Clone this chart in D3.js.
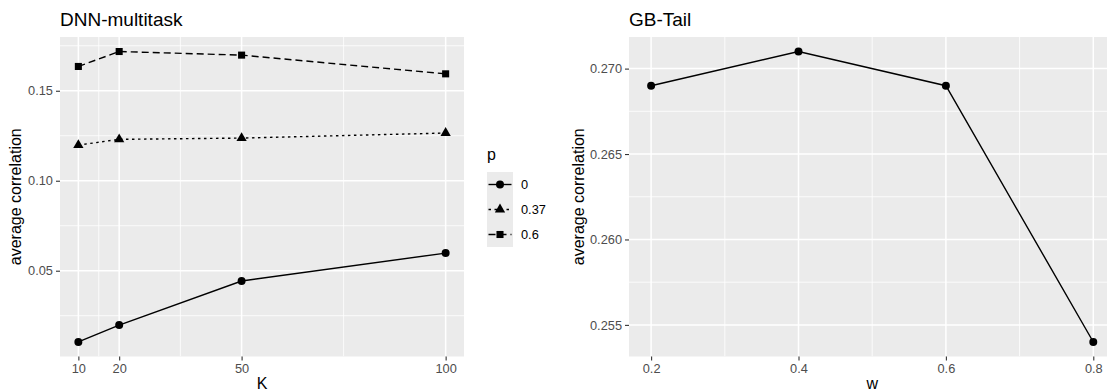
<!DOCTYPE html>
<html>
<head>
<meta charset="utf-8">
<script src="https://cdn.jsdelivr.net/npm/d3@7"></script>
<style>
  html, body { margin: 0; padding: 0; background: #ffffff; }
  svg { display: block; font-family: "Liberation Sans", Arial, Helvetica, sans-serif; }
</style>
</head>
<body>
<svg id="chart" width="1107" height="392"></svg>
<script>
// ---- data: DNN-multitask ----
const kValues = [10, 20, 50, 100];
const pLevels = ["0", "0.37", "0.6"];
const corrP0   = [0.0104, 0.0198, 0.0443, 0.0598];
const corrP037 = [0.1198, 0.1230, 0.1237, 0.1265];
const corrP06  = [0.1635, 0.1718, 0.1698, 0.1594];
const kTicks = [10, 20, 50, 100];
const kMinor = [15, 35, 75];
const dnnYTicks = [0.05, 0.10, 0.15];
const dnnYMinor = [0.025, 0.075, 0.125, 0.175];

// ---- data: GB-Tail ----
const wValues = [0.2, 0.4, 0.6, 0.8];
const corrGB  = [0.269, 0.271, 0.269, 0.254];
const wTicks = [0.2, 0.4, 0.6, 0.8];
const wMinor = [0.3, 0.5, 0.7];
const gbYTicks = [0.255, 0.260, 0.265, 0.270];
const gbYMinor = [0.2575, 0.2625, 0.2675];

const svg = d3.select("#chart");
const PANEL_BG = "#EBEBEB";
const TICK_COL = "#333333";
const TICK_TXT = "#4D4D4D";

// expand a numeric extent by 5% each side, like a default continuous scale
function padded(vals) {
  const [lo, hi] = d3.extent(vals);
  const d = (hi - lo) * 0.05;
  return [lo - d, hi + d];
}

// draws a grey panel with white grid, ticks, tick labels and titles
function panel(opt) {
  const g = svg.append("g");
  const x = d3.scaleLinear().domain(opt.xDomain).range([opt.left, opt.right]);
  const y = d3.scaleLinear().domain(opt.yDomain).range([opt.bottom, opt.top]);

  const clipId = "clip-" + opt.id;
  svg.append("clipPath").attr("id", clipId)
    .append("rect").attr("x", opt.left).attr("y", opt.top)
    .attr("width", opt.right - opt.left).attr("height", opt.bottom - opt.top);

  g.append("rect").attr("x", opt.left).attr("y", opt.top)
    .attr("width", opt.right - opt.left).attr("height", opt.bottom - opt.top)
    .attr("fill", PANEL_BG);

  const grid = g.append("g").attr("clip-path", `url(#${clipId})`);
  grid.selectAll(".ymin").data(opt.yMinor).join("line")
    .attr("x1", opt.left).attr("x2", opt.right)
    .attr("y1", d => y(d)).attr("y2", d => y(d))
    .attr("stroke", "#fff").attr("stroke-width", 0.8);
  grid.selectAll(".xmin").data(opt.xMinor).join("line")
    .attr("y1", opt.top).attr("y2", opt.bottom)
    .attr("x1", d => x(d)).attr("x2", d => x(d))
    .attr("stroke", "#fff").attr("stroke-width", 0.8);
  grid.selectAll(".ymaj").data(opt.yTicks).join("line")
    .attr("x1", opt.left).attr("x2", opt.right)
    .attr("y1", d => y(d)).attr("y2", d => y(d))
    .attr("stroke", "#fff").attr("stroke-width", 1.5);
  grid.selectAll(".xmaj").data(opt.xTicks).join("line")
    .attr("y1", opt.top).attr("y2", opt.bottom)
    .attr("x1", d => x(d)).attr("x2", d => x(d))
    .attr("stroke", "#fff").attr("stroke-width", 1.5);

  // axes via d3 axis generators, restyled
  const xAxis = d3.axisBottom(x).tickValues(opt.xTicks).tickFormat(opt.xFormat)
    .tickSize(4).tickPadding(3);
  const yAxis = d3.axisLeft(y).tickValues(opt.yTicks).tickFormat(opt.yFormat)
    .tickSize(4).tickPadding(3);
  const gx = g.append("g").attr("transform", `translate(0,${opt.bottom})`).call(xAxis);
  const gy = g.append("g").attr("transform", `translate(${opt.left},0)`).call(yAxis);
  [gx, gy].forEach(a => {
    a.select(".domain").remove();
    a.selectAll(".tick line").attr("stroke", TICK_COL).attr("stroke-width", 1.1);
    a.selectAll(".tick text").attr("fill", TICK_TXT)
      .style("font-size", "12.8px").style("font-family", "Liberation Sans, Arial, sans-serif");
  });

  g.append("text").attr("x", opt.left).attr("y", 26)
    .attr("fill", "#000").style("font-size", "19px").text(opt.title);
  g.append("text").attr("x", (opt.left + opt.right) / 2).attr("y", 388.5)
    .attr("text-anchor", "middle").attr("fill", "#000").style("font-size", "16px")
    .text(opt.xTitle);
  g.append("text")
    .attr("transform", `translate(${opt.yTitleX},${(opt.top + opt.bottom) / 2}) rotate(-90)`)
    .attr("text-anchor", "middle").attr("fill", "#000").style("font-size", "16px")
    .text("average correlation");

  return { g, x, y, clipId };
}

const TOP = 37, BOTTOM = 356.5;

// ---------- left: DNN-multitask ----------
const dnnSeries = [
  { level: pLevels[0], values: corrP0,   dash: null,      shape: d3.symbolCircle,   size: 50 },
  { level: pLevels[1], values: corrP037, dash: "2.5,3.5", shape: d3.symbolTriangle, size: 46 },
  { level: pLevels[2], values: corrP06,  dash: "7,4",     shape: d3.symbolSquare,   size: 50 }
];
const left = panel({
  id: "dnn", left: 60, right: 464, top: TOP, bottom: BOTTOM,
  xDomain: padded(kValues),
  yDomain: padded(corrP0.concat(corrP037, corrP06)),
  xTicks: kTicks, xMinor: kMinor, yTicks: dnnYTicks, yMinor: dnnYMinor,
  xFormat: d3.format("d"), yFormat: d3.format(".2f"),
  title: "DNN-multitask", xTitle: "K", yTitleX: 21
});
const line = (sx, sy) => d3.line().x(d => sx(d[0])).y(d => sy(d[1]));
dnnSeries.forEach(s => {
  const pts = kValues.map((k, i) => [k, s.values[i]]);
  left.g.append("path").datum(pts)
    .attr("d", line(left.x, left.y))
    .attr("fill", "none").attr("stroke", "#000").attr("stroke-width", 1.4)
    .attr("stroke-dasharray", s.dash);
  left.g.selectAll(null).data(pts).join("path")
    .attr("transform", d => `translate(${left.x(d[0])},${left.y(d[1])})`)
    .attr("d", d3.symbol().type(s.shape).size(s.size))
    .attr("fill", "#000");
});

// legend
const lg = svg.append("g");
lg.append("text").attr("x", 487).attr("y", 160).style("font-size", "16px").attr("fill", "#000").text("p");
dnnSeries.forEach((s, i) => {
  const y0 = 172 + i * 25;
  lg.append("rect").attr("x", 487).attr("y", y0).attr("width", 26).attr("height", 25).attr("fill", PANEL_BG);
  lg.append("line").attr("x1", 488.5).attr("x2", 511.5).attr("y1", y0 + 12.5).attr("y2", y0 + 12.5)
    .attr("stroke", "#000").attr("stroke-width", 1.4).attr("stroke-dasharray", s.dash);
  lg.append("path").attr("transform", `translate(500,${y0 + 12.5})`)
    .attr("d", d3.symbol().type(s.shape).size(s.size)).attr("fill", "#000");
  lg.append("text").attr("x", 521).attr("y", y0 + 12.5).attr("dy", "0.35em")
    .style("font-size", "12.8px").attr("fill", "#000").text(s.level);
});

// ---------- right: GB-Tail ----------
const right = panel({
  id: "gb", left: 629, right: 1115.4, top: TOP, bottom: BOTTOM,
  xDomain: padded(wValues),
  yDomain: padded(corrGB),
  xTicks: wTicks, xMinor: wMinor, yTicks: gbYTicks, yMinor: gbYMinor,
  xFormat: d3.format(".1f"), yFormat: d3.format(".3f"),
  title: "GB-Tail", xTitle: "w", yTitleX: 584
});
const gbPts = wValues.map((w, i) => [w, corrGB[i]]);
right.g.append("path").datum(gbPts)
  .attr("d", line(right.x, right.y))
  .attr("fill", "none").attr("stroke", "#000").attr("stroke-width", 1.4);
right.g.selectAll(null).data(gbPts).join("path")
  .attr("transform", d => `translate(${right.x(d[0])},${right.y(d[1])})`)
  .attr("d", d3.symbol().type(d3.symbolCircle).size(50))
  .attr("fill", "#000");
</script>
</body>
</html>
